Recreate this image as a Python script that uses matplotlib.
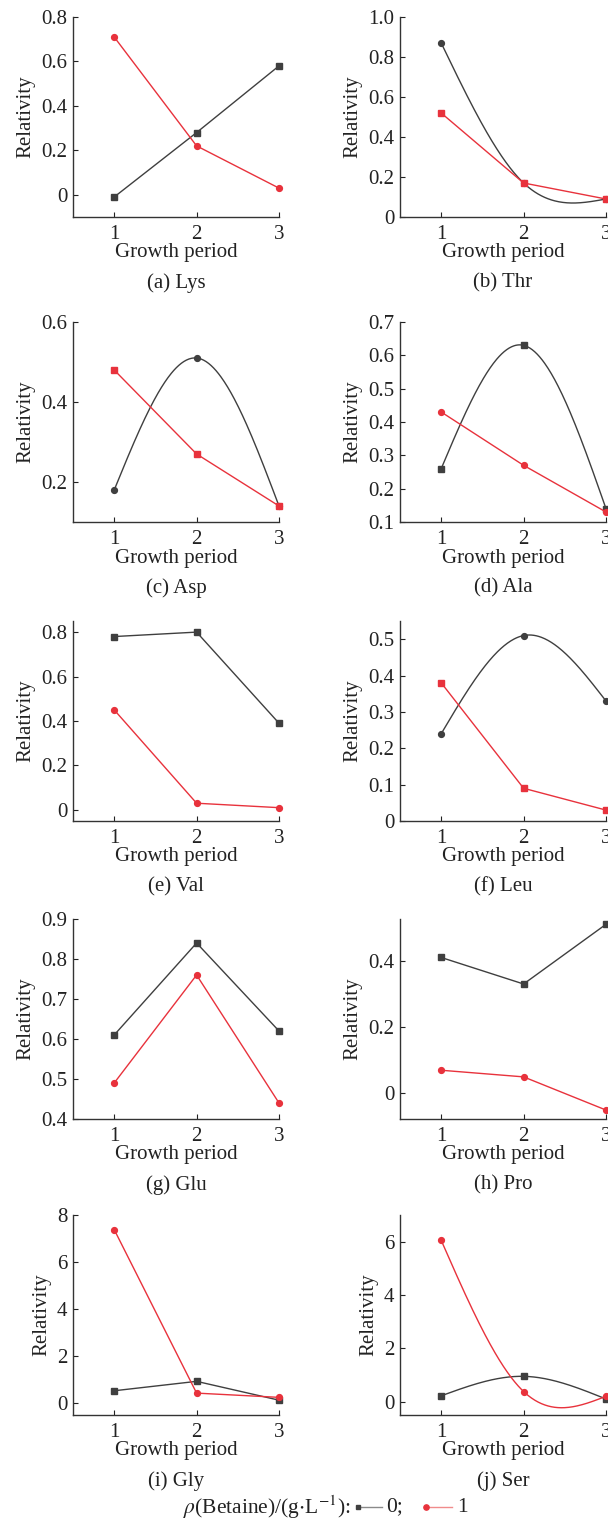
import numpy as np
import matplotlib
matplotlib.use("Agg")
import matplotlib.pyplot as plt
from matplotlib.lines import Line2D

plt.rcParams['font.family'] = ['Liberation Serif', 'DejaVu Serif']
plt.rcParams['mathtext.fontset'] = 'stix'
plt.rcParams['font.size'] = 15

# Dados
periods = [1, 2, 3]
captions = ["(a) Lys", "(b) Thr", "(c) Asp", "(d) Ala", "(e) Val",
            "(f) Leu", "(g) Glu", "(h) Pro", "(i) Gly", "(j) Ser"]

# betaína 0 g/L (cinza) e 1 g/L (vermelho)
dose0 = [
    [-0.01, 0.28, 0.58],
    [0.87, 0.17, 0.09],
    [0.18, 0.51, 0.14],
    [0.26, 0.63, 0.14],
    [0.78, 0.80, 0.39],
    [0.24, 0.51, 0.33],
    [0.61, 0.84, 0.62],
    [0.41, 0.33, 0.51],
    [0.53, 0.93, 0.13],
    [0.22, 0.95, 0.10],
]
dose1 = [
    [0.71, 0.22, 0.03],
    [0.52, 0.17, 0.09],
    [0.48, 0.27, 0.14],
    [0.43, 0.27, 0.13],
    [0.45, 0.03, 0.01],
    [0.38, 0.09, 0.03],
    [0.49, 0.76, 0.44],
    [0.07, 0.05, -0.05],
    [7.38, 0.43, 0.25],
    [6.05, 0.38, 0.20],
]

yticks = [
    [0, 0.2, 0.4, 0.6, 0.8],
    [0, 0.2, 0.4, 0.6, 0.8, 1.0],
    [0.2, 0.4, 0.6],
    [0.1, 0.2, 0.3, 0.4, 0.5, 0.6, 0.7],
    [0, 0.2, 0.4, 0.6, 0.8],
    [0, 0.1, 0.2, 0.3, 0.4, 0.5],
    [0.4, 0.5, 0.6, 0.7, 0.8, 0.9],
    [0, 0.2, 0.4],
    [0, 2, 4, 6, 8],
    [0, 2, 4, 6],
]
ytick_labels = [
    ["0", "0.2", "0.4", "0.6", "0.8"],
    ["0", "0.2", "0.4", "0.6", "0.8", "1.0"],
    ["0.2", "0.4", "0.6"],
    ["0.1", "0.2", "0.3", "0.4", "0.5", "0.6", "0.7"],
    ["0", "0.2", "0.4", "0.6", "0.8"],
    ["0", "0.1", "0.2", "0.3", "0.4", "0.5"],
    ["0.4", "0.5", "0.6", "0.7", "0.8", "0.9"],
    ["0", "0.2", "0.4"],
    ["0", "2", "4", "6", "8"],
    ["0", "2", "4", "6"],
]
ylims = [(-0.1, 0.8), (0, 1.0), (0.1, 0.6), (0.1, 0.7), (-0.05, 0.85),
         (0, 0.55), (0.4, 0.9), (-0.077, 0.526), (-0.5, 8), (-0.5, 7)]

# marcadores e tipo de ligação (spline ou reta)
marker0 = ['s', 'o', 'o', 's', 's', 'o', 's', 's', 's', 's']
marker1 = ['o', 's', 's', 'o', 'o', 's', 'o', 'o', 'o', 'o']
smooth0 = [False, True, True, True, False, True, False, False, False, True]
smooth1 = [False, False, False, False, False, False, False, False, False, True]

c_gray = '#3f3f3f'
c_red = '#e8323c'


def natural_spline(x, y, num=200):
    x = np.asarray(x, float)
    y = np.asarray(y, float)
    n = len(x)
    h = np.diff(x)
    A = np.zeros((n, n))
    b = np.zeros(n)
    A[0, 0] = 1
    A[-1, -1] = 1
    for i in range(1, n - 1):
        A[i, i - 1] = h[i - 1]
        A[i, i] = 2 * (h[i - 1] + h[i])
        A[i, i + 1] = h[i]
        b[i] = 6 * ((y[i + 1] - y[i]) / h[i] - (y[i] - y[i - 1]) / h[i - 1])
    M = np.linalg.solve(A, b)
    xs = np.linspace(x[0], x[-1], num)
    ys = np.empty_like(xs)
    for k, xv in enumerate(xs):
        i = min(np.searchsorted(x, xv, side='right') - 1, n - 2)
        a = x[i + 1] - xv
        c = xv - x[i]
        ys[k] = (M[i] * a ** 3 / (6 * h[i]) + M[i + 1] * c ** 3 / (6 * h[i])
                 + (y[i] / h[i] - M[i] * h[i] / 6) * a
                 + (y[i + 1] / h[i] - M[i + 1] * h[i] / 6) * c)
    return xs, ys


W, H = 608, 1530
fig = plt.figure(figsize=(W / 100, H / 100), dpi=100)

tops = [17, 322, 621, 919, 1215]
lefts = [73, 400]
ax_w, ax_h = 206, 200

for k in range(10):
    row, col = k // 2, k % 2
    ax = fig.add_axes([lefts[col] / W, 1 - (tops[row] + ax_h) / H, ax_w / W, ax_h / H])

    for vals, mk, sm, col_ in [(dose0[k], marker0[k], smooth0[k], c_gray),
                               (dose1[k], marker1[k], smooth1[k], c_red)]:
        if sm:
            xs, ys = natural_spline(periods, vals)
        else:
            xs, ys = periods, vals
        ax.plot(xs, ys, color=col_, lw=1.0, clip_on=False)
        ax.plot(periods, vals, ls='none', marker=mk, ms=4.2, color=col_,
                mec=col_, clip_on=False)

    ax.set_xlim(0.5, 3.0)
    ax.set_ylim(*ylims[k])
    ax.set_xticks(periods)
    ax.set_yticks(yticks[k])
    ax.set_yticklabels(ytick_labels[k])
    ax.tick_params(direction='in', length=3.5, width=0.8, colors='#222222',
                   labelsize=15, pad=4)
    ax.tick_params(axis='x', pad=6)
    for s in ['top', 'right']:
        ax.spines[s].set_visible(False)
    for s in ['left', 'bottom']:
        ax.spines[s].set_color('#333333')
        ax.spines[s].set_linewidth(1.0)
    ax.set_ylabel("Relativity", fontsize=15, color='#222222', labelpad=4)
    ax.text(0.5, -0.18, "Growth period", transform=ax.transAxes,
            ha='center', va='center', fontsize=15, color='#222222')
    ax.text(0.5, -0.33, captions[k], transform=ax.transAxes,
            ha='center', va='center', fontsize=15, color='#222222')

# legenda inferior
ly = 1 - 1507 / H
fig.text(350 / W, ly, r"$\rho$(Betaine)/(g$\cdot$L$^{-1}$):", ha='right',
         va='center', fontsize=15.5, color='#222222')
fig.add_artist(Line2D([358 / W, 382 / W], [ly, ly], color='#8a8a8a', lw=1.0,
                      transform=fig.transFigure))
fig.add_artist(Line2D([358 / W], [ly], marker='s', ms=3.5, color=c_gray,
                      transform=fig.transFigure))
fig.text(386 / W, ly, "0;", ha='left', va='center', fontsize=15.5, color='#222222')
fig.add_artist(Line2D([426 / W, 452 / W], [ly, ly], color='#f08c8c', lw=1.0,
                      transform=fig.transFigure))
fig.add_artist(Line2D([426 / W], [ly], marker='o', ms=3.8, color=c_red,
                      transform=fig.transFigure))
fig.text(457 / W, ly, "1", ha='left', va='center', fontsize=15.5, color='#222222')

fig.savefig("out.png", dpi=100, facecolor='white')
